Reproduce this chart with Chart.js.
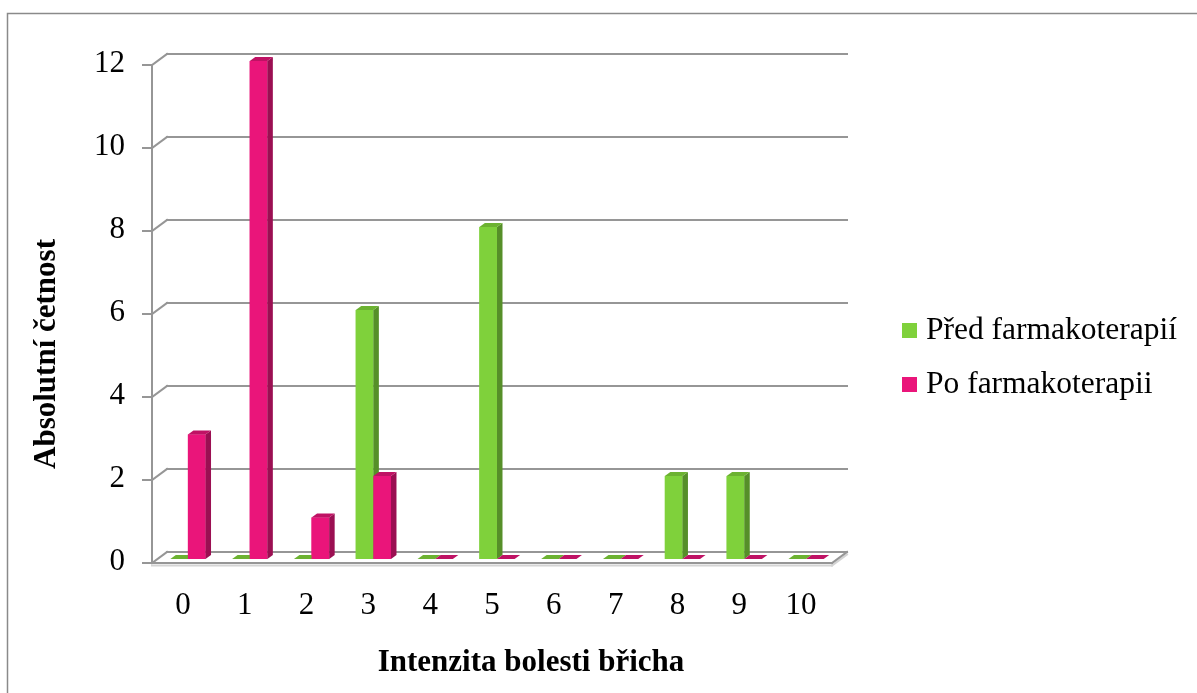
<!DOCTYPE html>
<html>
<head>
<meta charset="utf-8">
<script src="https://cdn.jsdelivr.net/npm/chart.js@4.4.1/dist/chart.umd.min.js"></script>
<style>
  html, body { margin: 0; padding: 0; background: #ffffff; }
  canvas { display: block; }
</style>
</head>
<body>
<canvas id="chart" width="1197" height="693"></canvas>
<script>
// Abdominal pain intensity (0–10) — absolute frequency before and after pharmacotherapy
const categories = ['0', '1', '2', '3', '4', '5', '6', '7', '8', '9', '10'];
const beforeTherapy = [0, 0, 0, 6, 0, 8, 0, 0, 2, 2, 0];
const afterTherapy  = [3, 12, 1, 2, 0, 0, 0, 0, 0, 0, 0];
const seriesNames = ['Před farmakoterapií', 'Po farmakoterapii'];
const yTicks = [0, 2, 4, 6, 8, 10, 12];
const xTitle = 'Intenzita bolesti břicha';
const yTitle = 'Absolutní četnost';

const FONT = '"Liberation Serif", "Times New Roman", serif';
const FONT_SIZE = 31;
const LEGEND_SIZE = 31.5;
const GRID = '#969696';

// face shades for the pseudo-3D columns
const shades = [
  { front: '#7fd13b', side: '#568f29', top: '#6cb231' },
  { front: '#ea157a', side: '#9b0f52', top: '#bf1264' }
];

// depth offsets relative to the plane the columns stand in
const BACK  = { x: 10,  y: -7 };
const FRONT = { x: -5,  y: 4 };
const BAR   = { x: 5.5, y: -4 };

function line(ctx, x1, y1, x2, y2) {
  ctx.beginPath();
  ctx.moveTo(x1, y1);
  ctx.lineTo(x2, y2);
  ctx.stroke();
}

// outer chart frame
const framePlugin = {
  id: 'frame',
  beforeDraw(chart) {
    const ctx = chart.ctx;
    ctx.save();
    ctx.fillStyle = '#ffffff';
    ctx.fillRect(0, 0, chart.width, chart.height);
    ctx.strokeStyle = '#8a8a8a';
    ctx.lineWidth = 1.5;
    ctx.strokeRect(7.5, 13.5, chart.width + 20, chart.height + 20);
    ctx.restore();
  }
};

// back wall, side wall, floor and the front value axis
const wallsPlugin = {
  id: 'walls',
  beforeDatasetsDraw(chart) {
    const ctx = chart.ctx;
    const a = chart.chartArea;
    const y = chart.scales.y;
    const y0 = y.getPixelForValue(yTicks[0]);
    const yMax = y.getPixelForValue(yTicks[yTicks.length - 1]);
    ctx.save();
    ctx.lineCap = 'square';

    // floor shading
    ctx.strokeStyle = '#d4d4d4';
    ctx.lineWidth = 2;
    line(ctx, a.left + FRONT.x, y0 + FRONT.y + 2.5, a.right + FRONT.x, y0 + FRONT.y + 2.5);
    line(ctx, a.right + FRONT.x, y0 + FRONT.y + 2.5, a.right + BACK.x, y0 + BACK.y + 2.5);

    ctx.strokeStyle = GRID;
    ctx.lineWidth = 2;
    yTicks.forEach(v => {
      const py = y.getPixelForValue(v);
      line(ctx, a.left + BACK.x, py + BACK.y, a.right + BACK.x, py + BACK.y);
      line(ctx, a.left + FRONT.x, py + FRONT.y, a.left + BACK.x, py + BACK.y);
      line(ctx, a.left + FRONT.x - 9, py + FRONT.y, a.left + FRONT.x, py + FRONT.y);
    });
    line(ctx, a.left + FRONT.x, y0 + FRONT.y, a.left + FRONT.x, yMax + FRONT.y);
    line(ctx, a.left + FRONT.x, y0 + FRONT.y, a.right + FRONT.x, y0 + FRONT.y);
    line(ctx, a.right + FRONT.x, y0 + FRONT.y, a.right + BACK.x, y0 + BACK.y);
    ctx.restore();
  }
};

// front, side and top faces of each column, series by series
const columnsPlugin = {
  id: 'columns3d',
  afterDatasetsDraw(chart) {
    const ctx = chart.ctx;
    ctx.save();
    chart.data.datasets.forEach((ds, di) => {
      const meta = chart.getDatasetMeta(di);
      const s = shades[di];
      meta.data.forEach(bar => {
        const p = bar.getProps(['x', 'y', 'base', 'width'], true);
        const l = p.x - p.width / 2;
        const r = p.x + p.width / 2;
        const top = Math.min(p.y, p.base);
        const bottom = Math.max(p.y, p.base);
        // front
        ctx.fillStyle = s.front;
        ctx.fillRect(l, top, r - l, bottom - top);
        // side
        ctx.fillStyle = s.side;
        ctx.beginPath();
        ctx.moveTo(r, top);
        ctx.lineTo(r + BAR.x, top + BAR.y);
        ctx.lineTo(r + BAR.x, bottom + BAR.y);
        ctx.lineTo(r, bottom);
        ctx.closePath();
        ctx.fill();
        // top
        ctx.fillStyle = s.top;
        ctx.beginPath();
        ctx.moveTo(l, top);
        ctx.lineTo(l + BAR.x, top + BAR.y);
        ctx.lineTo(r + BAR.x, top + BAR.y);
        ctx.lineTo(r, top);
        ctx.closePath();
        ctx.fill();
      });
    });
    ctx.restore();
  }
};

// axis titles and legend
const textPlugin = {
  id: 'texts',
  afterDraw(chart) {
    const ctx = chart.ctx;
    ctx.save();
    ctx.fillStyle = '#000000';
    ctx.font = 'bold ' + FONT_SIZE + 'px ' + FONT;
    ctx.textAlign = 'center';
    ctx.textBaseline = 'middle';
    ctx.fillText(xTitle, 531, 663);
    ctx.save();
    ctx.translate(47, 354);
    ctx.rotate(-Math.PI / 2);
    ctx.fillText(yTitle, 0, 0);
    ctx.restore();

    ctx.font = LEGEND_SIZE + 'px ' + FONT;
    ctx.textAlign = 'left';
    chart.data.datasets.forEach((ds, i) => {
      const cy = 331 + i * 54;
      ctx.fillStyle = ds.backgroundColor;
      ctx.fillRect(902, cy - 8, 15, 15);
      ctx.fillStyle = '#000000';
      ctx.fillText(ds.label, 926, cy);
    });
    ctx.restore();
  }
};

new Chart(document.getElementById('chart'), {
  type: 'bar',
  data: {
    labels: categories,
    datasets: [
      { label: seriesNames[0], data: beforeTherapy, backgroundColor: shades[0].front, borderWidth: 0 },
      { label: seriesNames[1], data: afterTherapy, backgroundColor: shades[1].front, borderWidth: 0 }
    ]
  },
  options: {
    responsive: false,
    animation: false,
    devicePixelRatio: 1,
    layout: { padding: { left: 0, top: 61, right: 360, bottom: 0 } },
    datasets: { bar: { categoryPercentage: 0.57, barPercentage: 1.0 } },
    scales: {
      x: {
        grid: { display: false, drawTicks: false },
        border: { display: false },
        ticks: {
          autoSkip: false, maxRotation: 0, minRotation: 0,
          padding: 28, labelOffset: -5, color: '#000000',
          font: { family: FONT, size: FONT_SIZE }
        },
        afterFit(scale) { scale.height = 134; }
      },
      y: {
        min: 0, max: 12,
        grid: { display: false, drawTicks: false },
        border: { display: false },
        afterBuildTicks(scale) { scale.ticks = yTicks.map(v => ({ value: v })); },
        ticks: {
          padding: 32, labelOffset: 3, color: '#000000',
          font: { family: FONT, size: FONT_SIZE }
        },
        afterFit(scale) { scale.width = 157; }
      }
    },
    plugins: {
      legend: { display: false },
      tooltip: { enabled: false }
    }
  },
  plugins: [framePlugin, wallsPlugin, columnsPlugin, textPlugin]
});
</script>
</body>
</html>
